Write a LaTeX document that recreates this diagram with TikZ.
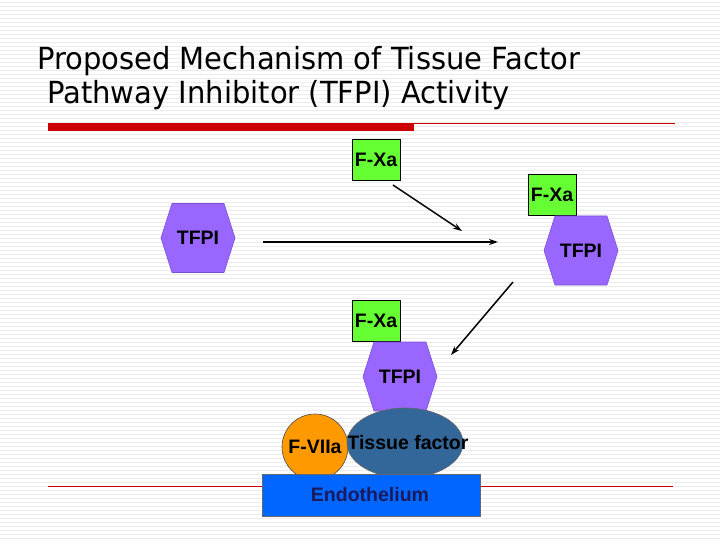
\documentclass[tikz,border=0pt]{standalone}
\usepackage{fontspec}
\usepackage{graphicx}
\setmainfont{Liberation Sans}
\newfontfamily\titlefont{DejaVu Sans}
\usetikzlibrary{arrows.meta,calc,shapes.geometric}
\definecolor{fxgreen}{HTML}{66FF33}
\definecolor{tfpurple}{HTML}{9966FF}
\definecolor{tfedge}{HTML}{7A52D6}
\definecolor{tfblue}{HTML}{336699}
\definecolor{fvorange}{HTML}{FF9900}
\definecolor{endoblue}{HTML}{0066FF}
\definecolor{endotext}{HTML}{1A1A5C}
\definecolor{slidered}{HTML}{CC0000}
\definecolor{stripe}{HTML}{ECECEC}
\tikzset{
  lbl/.style={font=\fontsize{19.5}{19.5}\selectfont\bfseries, inner sep=0pt},
  fxbox/.style={draw=black, line width=0.8pt, fill=fxgreen, minimum width=48pt, minimum height=41pt, inner sep=0pt, font=\fontsize{19.5}{19.5}\selectfont\bfseries},
  hexfill/.style={fill=tfpurple, draw=tfedge, line width=0.6pt},
  arr/.style={line width=1.5pt, -{Stealth[length=9pt,width=6pt]}},
  titletxt/.style={anchor=base west, inner sep=0pt, font=\titlefont\fontsize{29}{29}\selectfont}
}
\newcommand{\hexpath}[1]{($(#1)+(-37,0)$) -- ++(11,-34.5) -- ++(52,0) -- ++(11,34.5) -- ++(-11,34.5) -- ++(-52,0) -- cycle}
\begin{document}
\begin{tikzpicture}[x=1pt,y=-1pt]
\useasboundingbox[fill=white] (0,0) rectangle (720,540);
\foreach \yy in {2,6,...,538} {\draw[stripe, line width=0.6pt] (0,\yy) -- (720,\yy);}
% title
\node[titletxt] (t1) at (37,70) {\scalebox{1}[1.05]{Proposed Mechanism of Tissue Factor}};
\node[titletxt] (t2) at (47,104) {\scalebox{1}[1.05]{Pathway Inhibitor (TFPI) Activity}};
% red rules
\fill[slidered] (48,123) rectangle (414,131);
\draw[slidered, line width=0.8pt] (414,123.5) -- (675,123.5);
\draw[slidered, line width=0.8pt] (48,486) -- (673,486);
% top F-Xa
\node[fxbox] (fxa1) at (376,160) {F-Xa};
% left TFPI
\coordinate (hl) at (198,238);
\draw[hexfill] \hexpath{hl};
\node[lbl] (tfpi1) at (hl) {TFPI};
% right complex
\node[fxbox] (fxa2) at (552,195) {F-Xa};
\coordinate (hr) at (581,250.5);
\draw[hexfill] \hexpath{hr};
\node[lbl] (tfpi2) at (hr) {TFPI};
% arrows
\coordinate (a1s) at (393,185);
\coordinate (a1e) at (462,231);
\coordinate (a2s) at (263,242);
\coordinate (a2e) at (498,242);
\coordinate (a3s) at (513,282);
\coordinate (a3e) at (451,355);
\draw[arr] (a1s) -- (a1e);
\draw[arr] (a2s) -- (a2e);
\draw[arr] (a3s) -- (a3e);
% bottom complex
\node[fxbox] (fxa3) at (376,321) {F-Xa};
\coordinate (hm) at (400,376.5);
\draw[hexfill] \hexpath{hm};
\node[lbl] (tfpi3) at (hm) {TFPI};
\node[circle, fill=fvorange, draw=black!70, line width=0.6pt, minimum size=66pt, inner sep=0pt] (fv) at (315,447) {};
\node[ellipse, fill=tfblue, draw=black!60, line width=0.6pt, minimum width=116pt, minimum height=70pt, inner sep=0pt] (tf) at (405,443) {};
\node[rectangle, fill=endoblue, draw=black!60, line width=0.6pt, minimum width=218pt, minimum height=42pt, inner sep=0pt] (endo) at (371,495) {};
\node[lbl] (fvtxt) at (315,447) {F-VIIa};
\node[lbl] (tftxt) at (408,443) {Tissue factor};
\node[lbl, text=endotext] (endotxt) at (370,495) {Endothelium};
\end{tikzpicture}
\end{document}
